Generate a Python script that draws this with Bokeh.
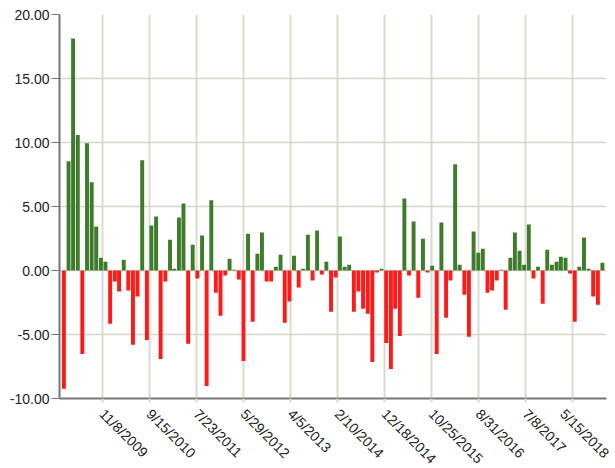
import math
import pandas as pd
from bokeh.plotting import figure
from bokeh.models import (ColumnDataSource, FixedTicker, NumeralTickFormatter,
                          DatetimeTickFormatter, Range1d)
from bokeh.embed import file_html
from bokeh.resources import INLINE

# Monthly (month-end) observations, Feb 2009 .. Nov 2018
start_month = "2009-02-28"
n_months = 118
values = [
    -9.24, 8.54, 18.12, 10.58, -6.52, 9.95, 6.89, 3.43, 1.00, 0.68,
    -4.16, -0.86, -1.65, 0.84, -1.57, -5.81, -2.04, 8.62, -5.42, 3.51,
    4.22, -6.91, -0.86, 2.41, 0.13, 4.14, 5.24, -5.73, 2.02, -0.63,
    2.73, -9.03, 5.48, -1.73, -3.53, -0.39, 0.92, 0.05, -0.71, -7.07,
    2.88, -4.00, 1.31, 2.96, -0.86, -0.86, 0.29, 1.23, -4.08, -2.43,
    1.15, -1.33, 0.13, 2.80, -0.78, 3.12, -0.31, 0.68, -3.22, -0.55,
    2.65, 0.29, 0.45, -3.22, -1.65, -2.98, -3.38, -7.15, -0.16, 0.13,
    -5.66, -7.70, -2.98, -5.11, 5.63, -0.39, 3.83, -2.12, 2.49, -0.16,
    0.37, -6.52, 3.75, -3.69, -0.78, 8.30, 0.45, -1.89, -5.18, 3.04,
    1.39, 1.70, -1.73, -1.57, -0.78, 0.05, -3.06, 1.00, 2.96, 1.55,
    0.45, 3.59, -0.63, 0.29, -2.59, 1.63, 0.45, 0.68, 1.08, 1.00,
    -0.24, -4.00, 0.29, 2.57, 0.13, -2.04, -2.67, 0.60,
]
tick_labels = ["11/8/2009", "9/15/2010", "7/23/2011", "5/29/2012", "4/5/2013",
               "2/10/2014", "12/18/2014", "10/25/2015", "8/31/2016",
               "7/8/2017", "5/15/2018"]
y_ticks = [-10, -5, 0, 5, 10, 15, 20]

GREEN = "#3e7b2b"
RED = "#ff1a1a"

dates = pd.date_range(start_month, periods=n_months, freq="ME")
colors = [GREEN if v >= 0 else RED for v in values]
src = ColumnDataSource(dict(x=dates, top=values, color=colors))

x_start = pd.Timestamp("2009-01-30")
x_end = pd.Timestamp("2018-12-27")

p = figure(width=612, height=475, x_axis_type="datetime",
           output_backend="svg", toolbar_location=None,
           x_range=Range1d(x_start, x_end), y_range=Range1d(-10, 20),
           min_border_left=59, min_border_right=6, min_border_top=14,
           min_border_bottom=70)
p.outline_line_color = None

day_ms = 24 * 3600 * 1000
p.vbar(x="x", top="top", bottom=0, width=26 * day_ms, color="color",
       line_color=None, source=src)

tick_ms = [pd.Timestamp(pd.to_datetime(t, format="%m/%d/%Y")).value / 1e6
           for t in tick_labels]
p.xaxis.ticker = FixedTicker(ticks=tick_ms)
fmt = "%-m/%-d/%Y"
p.xaxis.formatter = DatetimeTickFormatter(
    microseconds=fmt, milliseconds=fmt, seconds=fmt, minsec=fmt, minutes=fmt,
    hourmin=fmt, hours=fmt, days=fmt, months=fmt, years=fmt)
p.xaxis.major_label_orientation = -math.pi / 4
p.xaxis.major_label_standoff = 9
p.xaxis.minor_tick_line_color = None
p.xaxis.major_tick_in = 0
p.xaxis.major_tick_out = 4
p.xaxis.major_tick_line_color = "#d5d9cc"
p.xaxis.major_tick_line_width = 2

p.yaxis.ticker = FixedTicker(ticks=y_ticks)
p.yaxis.formatter = NumeralTickFormatter(format="0.00")
p.yaxis.minor_tick_line_color = None
p.yaxis.major_tick_in = 0
p.yaxis.major_tick_out = 8
p.yaxis.major_tick_line_color = "#777777"
p.yaxis.major_label_standoff = 2

for ax in (p.xaxis, p.yaxis):
    ax.axis_line_color = "#777777"
    ax.axis_line_width = 2
    ax.major_label_text_font = "Liberation Sans"
    ax.major_label_text_font_size = "14px"
    ax.major_label_text_color = "#222222"

p.xgrid.grid_line_color = "#d8dcd0"
p.xgrid.grid_line_width = 2
p.ygrid.grid_line_color = "#d3d8cb"
p.ygrid.grid_line_width = 1.5

open("out.html", "w").write(file_html(p, INLINE))
